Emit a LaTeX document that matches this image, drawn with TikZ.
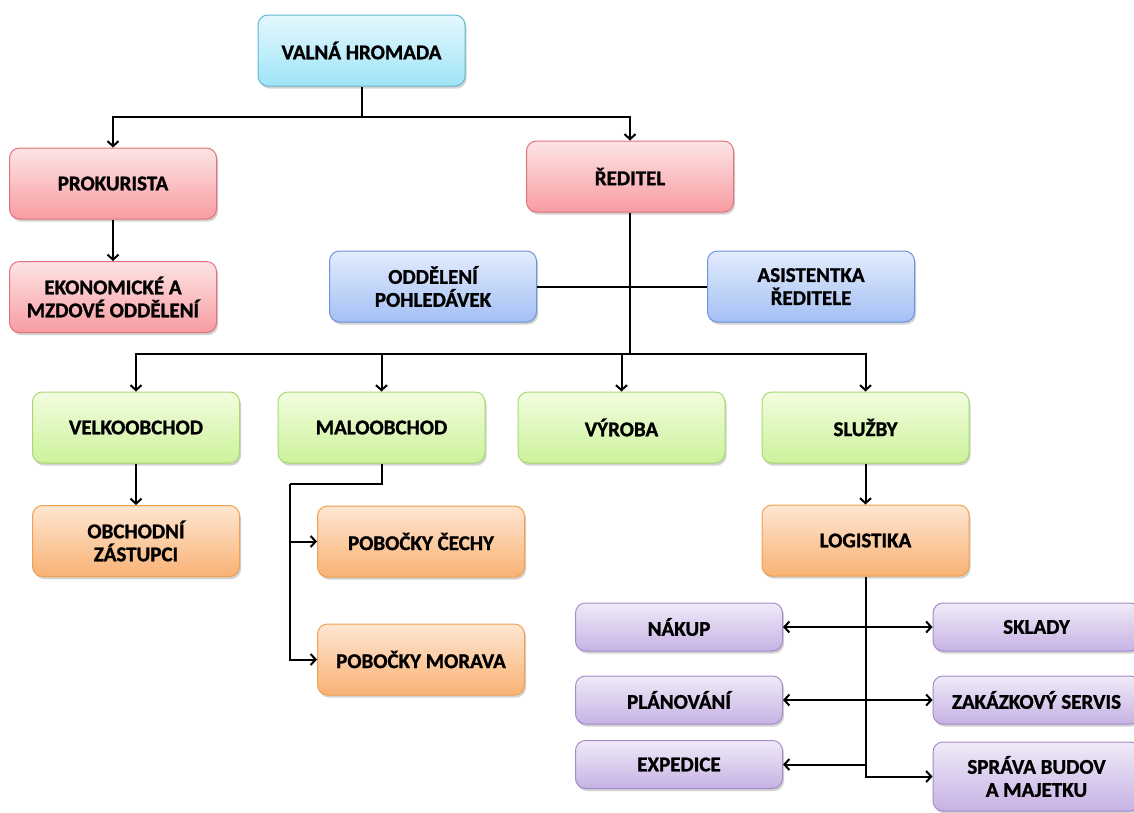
\documentclass[tikz,border=0pt]{standalone}
\usepackage{fontspec}
\setmainfont{Carlito}[BoldFeatures={FakeBold=1.2}]
\usetikzlibrary{arrows.meta,shadows}
\definecolor{cyanT}{HTML}{E4F8FD}\definecolor{cyanB}{HTML}{A0E4F8}\definecolor{cyanD}{HTML}{62B8D0}
\definecolor{redT}{HTML}{FDE4E4}\definecolor{redB}{HTML}{F89CA2}\definecolor{redD}{HTML}{E0727C}
\definecolor{bluT}{HTML}{E2ECFD}\definecolor{bluB}{HTML}{A4C0F4}\definecolor{bluD}{HTML}{6C94DC}
\definecolor{grnT}{HTML}{F2FDE0}\definecolor{grnB}{HTML}{CCF29A}\definecolor{grnD}{HTML}{A8D872}
\definecolor{ornT}{HTML}{FEE6D2}\definecolor{ornB}{HTML}{F9B274}\definecolor{ornD}{HTML}{F0A050}
\definecolor{purT}{HTML}{F0EAF8}\definecolor{purB}{HTML}{C6B2E4}\definecolor{purD}{HTML}{A48CC8}
\tikzset{
  box/.style={rounded corners=10pt, minimum width=207pt, minimum height=71pt, inner sep=2pt,
    align=center, line width=1pt,
    font=\fontsize{21}{23}\selectfont\bfseries,
    drop shadow={shadow xshift=1.5pt, shadow yshift=-2.5pt, opacity=0.35, fill=black!50}},
  cyanbox/.style={box, draw=cyanD, top color=cyanT, bottom color=cyanB},
  redbox/.style={box, draw=redD, top color=redT, bottom color=redB},
  blubox/.style={box, draw=bluD, top color=bluT, bottom color=bluB},
  grnbox/.style={box, draw=grnD, top color=grnT, bottom color=grnB},
  ornbox/.style={box, draw=ornD, top color=ornT, bottom color=ornB},
  purbox/.style={box, draw=purD, top color=purT, bottom color=purB, minimum height=48pt},
  conn/.style={line width=2pt, black},
  arr/.style={conn, -{Straight Barb[length=5pt,width=11pt,line width=2pt]}},
  darr/.style={conn, {Straight Barb[length=5pt,width=11pt,line width=2pt]}-{Straight Barb[length=5pt,width=11pt,line width=2pt]}}
}
\begin{document}
\begin{tikzpicture}[x=1pt,y=-1pt]
\useasboundingbox (0,0) rectangle (1134,812);
\fill[white] (0,0) rectangle (1134,812);
% nodes
\node[cyanbox] (valna) at (361.5,50.5) {VALNÁ HROMADA};
\node[redbox] (prok) at (113,183.5) {PROKURISTA};
\node[redbox] (red) at (630,176.5) {ŘEDITEL};
\node[redbox] (ekon) at (113,297) {EKONOMICKÉ A\\MZDOVÉ ODDĚLENÍ};
\node[blubox] (odd) at (433,286.5) {ODDĚLENÍ\\POHLEDÁVEK};
\node[blubox] (asist) at (811,286.5) {ASISTENTKA\\ŘEDITELE};
\node[grnbox] (velko) at (136,427.5) {VELKOOBCHOD};
\node[grnbox] (malo) at (381.5,427.5) {MALOOBCHOD};
\node[grnbox] (vyroba) at (621.5,427.5) {VÝROBA};
\node[grnbox] (sluzby) at (865.5,427.5) {SLUŽBY};
\node[ornbox] (obch) at (136,541) {OBCHODNÍ\\ZÁSTUPCI};
\node[ornbox] (cechy) at (421,541.5) {POBOČKY ČECHY};
\node[ornbox] (morava) at (421,659.5) {POBOČKY MORAVA};
\node[ornbox] (logist) at (865.5,540.5) {LOGISTIKA};
\node[purbox] (nakup) at (679,627) {NÁKUP};
\node[purbox] (plan) at (679,700) {PLÁNOVÁNÍ};
\node[purbox] (exped) at (679,764.5) {EXPEDICE};
\node[purbox] (sklady) at (1036.5,627) {SKLADY};
\node[purbox] (zakaz) at (1036.5,700) {ZAKÁZKOVÝ SERVIS};
\node[purbox, minimum height=69pt] (sprava) at (1036.5,776.5) {SPRÁVA BUDOV\\A MAJETKU};
% connectors
\coordinate (t1) at (361.5,117);
\draw[conn] (valna.south) -- (t1);
\draw[arr] (t1) -| (prok.north);
\draw[arr] (t1) -| (red.north);
\draw[arr] (prok.south) -- (ekon.north);
\coordinate (t2) at (630,354);
\draw[conn] (red.south) -- (t2);
\draw[conn] (odd.east) -- (asist.west);
\draw[arr] (t2) -| (velko.north);
\draw[arr] (t2) -| (malo.north);
\draw[arr] (t2) -| (vyroba.north);
\draw[arr] (t2) -| (sluzby.north);
\draw[arr] (velko.south) -- (obch.north);
\coordinate (mj) at (290,484);
\draw[conn] (malo.south) |- (mj);
\draw[arr] (mj) |- (morava.west);
\draw[arr] (mj |- cechy.west) -- (cechy.west);
\draw[arr] (sluzby.south) -- (logist.north);
\draw[arr] (logist.south) |- (sprava.west);
\draw[darr] (nakup.east) -- (sklady.west);
\draw[darr] (plan.east) -- (zakaz.west);
\draw[arr] (logist.south |- exped.east) -- (exped.east);
\end{tikzpicture}
\end{document}
